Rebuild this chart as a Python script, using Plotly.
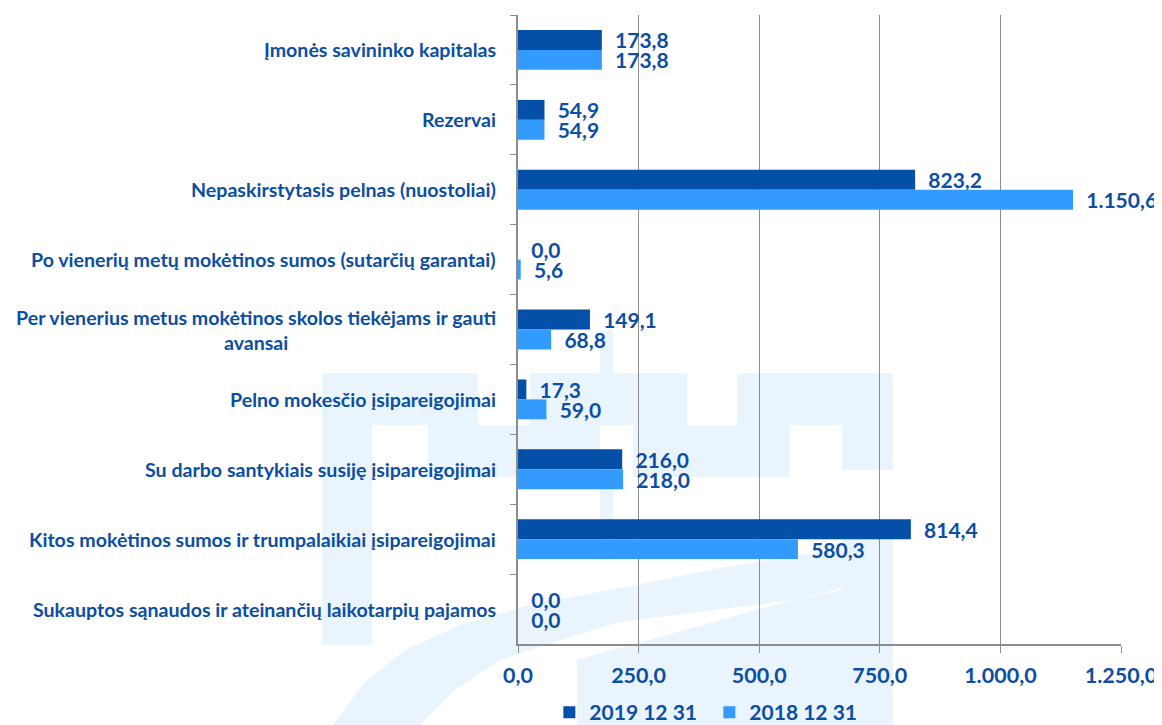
import plotly.graph_objects as go

categories = [
    "Įmonės savininko kapitalas",
    "Rezervai",
    "Nepaskirstytasis pelnas (nuostoliai)",
    "Po vienerių metų mokėtinos sumos (sutarčių garantai)",
    "Per vienerius metus mokėtinos skolos tiekėjams ir gauti<br>avansai",
    "Pelno mokesčio įsipareigojimai",
    "Su darbo santykiais susiję įsipareigojimai",
    "Kitos mokėtinos sumos ir trumpalaikiai įsipareigojimai",
    "Sukauptos sąnaudos ir ateinančių laikotarpių pajamos",
]
values_2019 = [173.8, 54.9, 823.2, 0.0, 149.1, 17.3, 216.0, 814.4, 0.0]
values_2018 = [173.8, 54.9, 1150.6, 5.6, 68.8, 59.0, 218.0, 580.3, 0.0]
series_names = ["2019 12 31", "2018 12 31"]
tick_values = [0, 250, 500, 750, 1000, 1250]

TEXT = "#0B4EA2"
DARK = "#0450A8"
LIGHT = "#349BFE"
GRID = "#8C8C8C"
WM = "#EAF4FD"
FONT = "Lato"

OFF = 8  # page body margin
W, H = 1162 - OFF, 725 - OFF
ML, MT = 518 - OFF, 15 - OFF
MR = 1162 - 1121
MB = 725 - 644
PW, PH = W - ML - MR, H - MT - MB


def lt(v):
    s = f"{v:,.1f}"
    return s.replace(",", "X").replace(".", ",").replace("X", ".")


def px(x):
    return (x - OFF - ML) / PW


def py(y):
    return 1 - (y - OFF - MT) / PH


fig = go.Figure()
for name, vals, col in [(series_names[0], values_2019, DARK), (series_names[1], values_2018, LIGHT)]:
    fig.add_trace(go.Bar(
        y=categories, x=vals, name=name, orientation="h",
        marker=dict(color=col, line=dict(width=0)),
        text=["\u00a0\u00a0" + lt(v) for v in vals],
        textposition="outside", constraintext="none", cliponaxis=False,
        textfont=dict(family=FONT, size=21, color=TEXT, weight="bold"),
        hoverinfo="skip",
    ))

# watermark (faint background logo)
shapes = []
rects = [
    (322, 372, 373, 645),
    (322, 478, 373, 425),
    (530, 687, 373, 425),
    (737, 893, 373, 425),
    (428, 600, 425, 477),
    (633, 790, 425, 477),
    (842, 893, 425, 470),
    (600, 613, 330, 373),
    (600, 613, 477, 560),
    (842, 893, 530, 725),
]
for x0, x1, y0, y1 in rects:
    shapes.append(dict(type="rect", xref="paper", yref="paper", layer="below",
                       x0=px(x0), x1=px(x1), y0=py(y1), y1=py(y0),
                       fillcolor=WM, line=dict(width=0)))
polys = [
    [(333, 725), (365, 682), (405, 650), (460, 625), (530, 605), (620, 588), (720, 568), (842, 548),
     (842, 588), (793, 600), (620, 622), (560, 640), (500, 660), (455, 690), (420, 725)],
    [(577, 660), (793, 600), (842, 590), (842, 725), (577, 725)],
]
for pts in polys:
    path = "M " + " L ".join(f"{px(x):.4f},{py(y):.4f}" for x, y in pts) + " Z"
    shapes.append(dict(type="path", xref="paper", yref="paper", layer="below", path=path,
                       fillcolor=WM, line=dict(width=0)))

annotations = []
for c in categories:
    annotations.append(dict(x=0, xref="paper", y=c, yref="y", text=c, showarrow=False,
                            xanchor="right", yanchor="middle", align="center", xshift=-20,
                            font=dict(family=FONT, size=19.6, color=TEXT, weight="bold")))

fig.update_layout(
    width=W, height=H,
    margin=dict(l=ML, r=MR, t=MT, b=MB, autoexpand=False),
    paper_bgcolor="white", plot_bgcolor="rgba(0,0,0,0)",
    barmode="group", bargap=0.43, bargroupgap=0,
    font=dict(family=FONT, color=TEXT),
    shapes=shapes, annotations=annotations,
    showlegend=True,
    legend=dict(orientation="h", x=0.052, y=-0.109, xanchor="left", yanchor="middle",
                font=dict(family=FONT, size=21, color=TEXT, weight="bold"),
                itemwidth=30, entrywidth=115, entrywidthmode="pixels",
                traceorder="normal", bgcolor="rgba(0,0,0,0)"),
    xaxis=dict(range=[0, 1250], tickvals=tick_values, ticktext=[lt(v) for v in tick_values],
               showgrid=True, gridcolor=GRID, gridwidth=1, zeroline=False,
               showline=True, linecolor=GRID, linewidth=1.5,
               ticks="outside", ticklen=7, tickcolor=GRID, ticklabelstandoff=4,
               tickfont=dict(family=FONT, size=21.5, color=TEXT, weight="bold")),
    yaxis=dict(autorange="reversed", showticklabels=False, showgrid=False, zeroline=False,
               showline=True, linecolor=GRID, linewidth=1.5,
               ticks="outside", ticklen=6, tickcolor=GRID, tickson="boundaries"),
)

fig.write_html("out.html")
